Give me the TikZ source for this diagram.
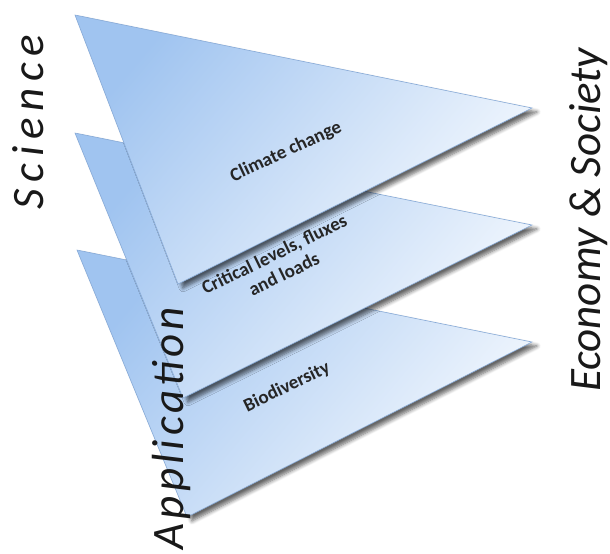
\documentclass[tikz,border=0pt]{standalone}
\usepackage{fontspec}
\setmainfont{Carlito}
\usetikzlibrary{shadows.blur,positioning}
\definecolor{layerdark}{RGB}{160,196,240}
\definecolor{layerlight}{RGB}{245,249,254}
\definecolor{layeredge}{RGB}{135,170,215}
\tikzstyle{layer} = [draw=layeredge, line width=0.3pt, top color=layerdark, bottom color=layerlight, shading angle=50, blur shadow={shadow xshift=2.5pt, shadow yshift=-2pt, shadow blur steps=6, shadow opacity=60}]
\tikzstyle{tag} = [font=\bfseries\fontsize{9.5}{11}\selectfont, align=center, text=black!85]
\tikzstyle{side} = [font=\itshape\fontsize{22.5}{24}\selectfont, rotate=90, anchor=base, text=black!90]

\begin{document}
\begin{tikzpicture}[x=0.5pt, y=-0.5pt]
    \useasboundingbox (0,0) rectangle (610,553);
    % corners of the three layers
    \coordinate (bioTL) at (77,250);
    \coordinate (bioBL) at (187,517);
    \coordinate (bioR) at (532,342);
    \coordinate (critTL) at (75,133);
    \coordinate (critBL) at (183,398);
    \coordinate (critR) at (532,225);
    \coordinate (climTL) at (75,15);
    \coordinate (climBL) at (178,284);
    \coordinate (climR) at (532,108);

    % layers, back to front
    \path[layer] (bioTL) -- (bioR) -- (bioBL) -- cycle;
    \path[layer] (critTL) -- (critR) -- (critBL) -- cycle;
    \path[layer] (climTL) -- (climR) -- (climBL) -- cycle;

    % layer labels
    \node[tag, rotate=25] (clim) at (286,152) {Climate change};
    \node[tag, rotate=26] (crit) at (279,264) {Critical levels, fluxes\\and loads};
    \node[tag, rotate=26] (bio) at (287,387) {Biodiversity};

    % axes
    \node[side] (science) at (43,122) {\addfontfeature{LetterSpace=15}Science};
    \node[side] (society) at (600,220) {Economy \& Society};
    \node[side] (application) at (183,428) {\addfontfeature{LetterSpace=9}Application};
\end{tikzpicture}
\end{document}
